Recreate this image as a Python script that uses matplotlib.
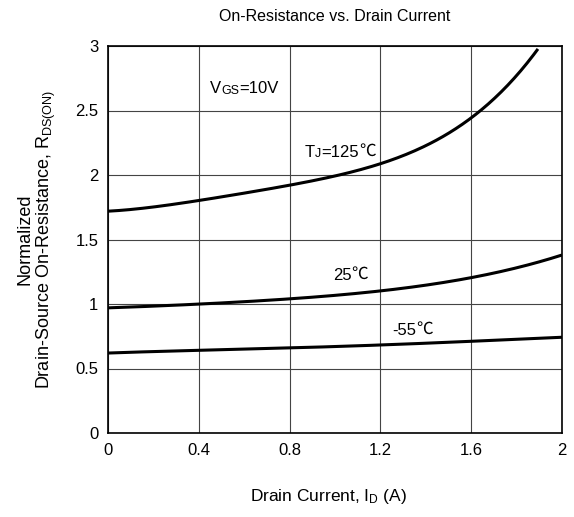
import numpy as np
import matplotlib
matplotlib.use('Agg')
from matplotlib import pyplot as plt

plt.rcParams['font.family'] = ['Liberation Sans', 'DejaVu Sans']
plt.rcParams['mathtext.fontset'] = 'custom'
plt.rcParams['mathtext.rm'] = 'Liberation Sans'
plt.rcParams['mathtext.it'] = 'Liberation Sans'

id_125 = [0.0, 0.2, 0.4, 0.6, 0.8, 1.0, 1.2, 1.374, 1.5, 1.6, 1.7, 1.8, 1.894]
r_125 = [1.715, 1.76, 1.805, 1.855, 1.915, 1.99, 2.085, 2.22, 2.33, 2.45, 2.58, 2.74, 3.0]

id_25 = [0.0, 0.4, 0.846, 1.2, 1.6, 1.8, 2.0]
r_25 = [0.97, 1.0, 1.044, 1.103, 1.204, 1.28, 1.38]

id_m55 = [0.0, 0.4, 0.846, 1.2, 1.6, 2.0]
r_m55 = [0.62, 0.64, 0.664, 0.68, 0.712, 0.742]

xticks = [0, 0.4, 0.8, 1.2, 1.6, 2]
xtick_labels = ['0', '0.4', '0.8', '1.2', '1.6', '2']
yticks = [0, 0.5, 1, 1.5, 2, 2.5, 3]
ytick_labels = ['0', '0.5', '1', '1.5', '2', '2.5', '3']

CJK = ['Noto Sans CJK SC', 'DejaVu Sans']


def smooth(x, y):
    xs = np.linspace(x[0], x[-1], 200)
    c = np.polyfit(x, y, 4)
    return xs, np.polyval(c, xs)


def rich(ax, x, y, parts):
    # parts: (text, fontsize, dy in points, family)
    s, fs, dy, fam = parts[0]
    base = ax.text(x, y, s, fontsize=fs, va='bottom', family=fam)
    prev = base
    for s, fs, dy, fam in parts[1:]:
        prev = ax.annotate(s, xy=(1, 0), xycoords=(prev, base),
                           xytext=(0, dy), textcoords='offset points',
                           fontsize=fs, va='bottom', family=fam)
    return base


fig = plt.figure(figsize=(5.74, 5.17), dpi=100)
ax = fig.add_axes([108 / 574, 1 - 433 / 517, 454 / 574, 387 / 517])

for x, y in [(id_125, r_125), (id_25, r_25), (id_m55, r_m55)]:
    xs, ys = smooth(x, y)
    ax.plot(xs, ys, color='black', lw=2.2, solid_capstyle='butt')

ax.set_xlim(0, 2)
ax.set_ylim(0, 3)
ax.set_xticks(xticks)
ax.set_xticklabels(xtick_labels)
ax.set_yticks(yticks)
ax.set_yticklabels(ytick_labels)
ax.tick_params(length=0, labelsize=12, pad=7)
ax.grid(True, color='#444444', lw=0.8)
for s in ax.spines.values():
    s.set_linewidth(1.2)

ax.set_title('On-Resistance vs. Drain Current', fontsize=11.5, pad=18)
ax.set_xlabel(r'Drain Current, I$_\mathregular{D}$ (A)', fontsize=12.5, labelpad=22)
ax.xaxis.set_label_coords(0.485, -0.14)
ax.set_ylabel('Normalized\n' + r'Drain-Source On-Resistance, R$_\mathregular{DS(ON)}$',
              fontsize=13, labelpad=12, linespacing=1.1)

lab = ['Liberation Sans']
rich(ax, 0.449, 2.61, [('V', 12, 0, lab), ('GS', 9, -0.5, lab), ('=10V', 12, 0, lab)])
rich(ax, 0.868, 2.12, [('T', 12, 0, lab), ('J', 9, -0.5, lab), ('=125', 12, 0, lab),
                       ('\u2103', 12, 0, CJK)])
rich(ax, 0.99, 1.165, [('25', 12, 0, lab), ('\u2103', 12, 0, CJK)])
rich(ax, 1.254, 0.735, [('-55', 12, 0, lab), ('\u2103', 12, 0, CJK)])

plt.savefig('out.png', dpi=100)
